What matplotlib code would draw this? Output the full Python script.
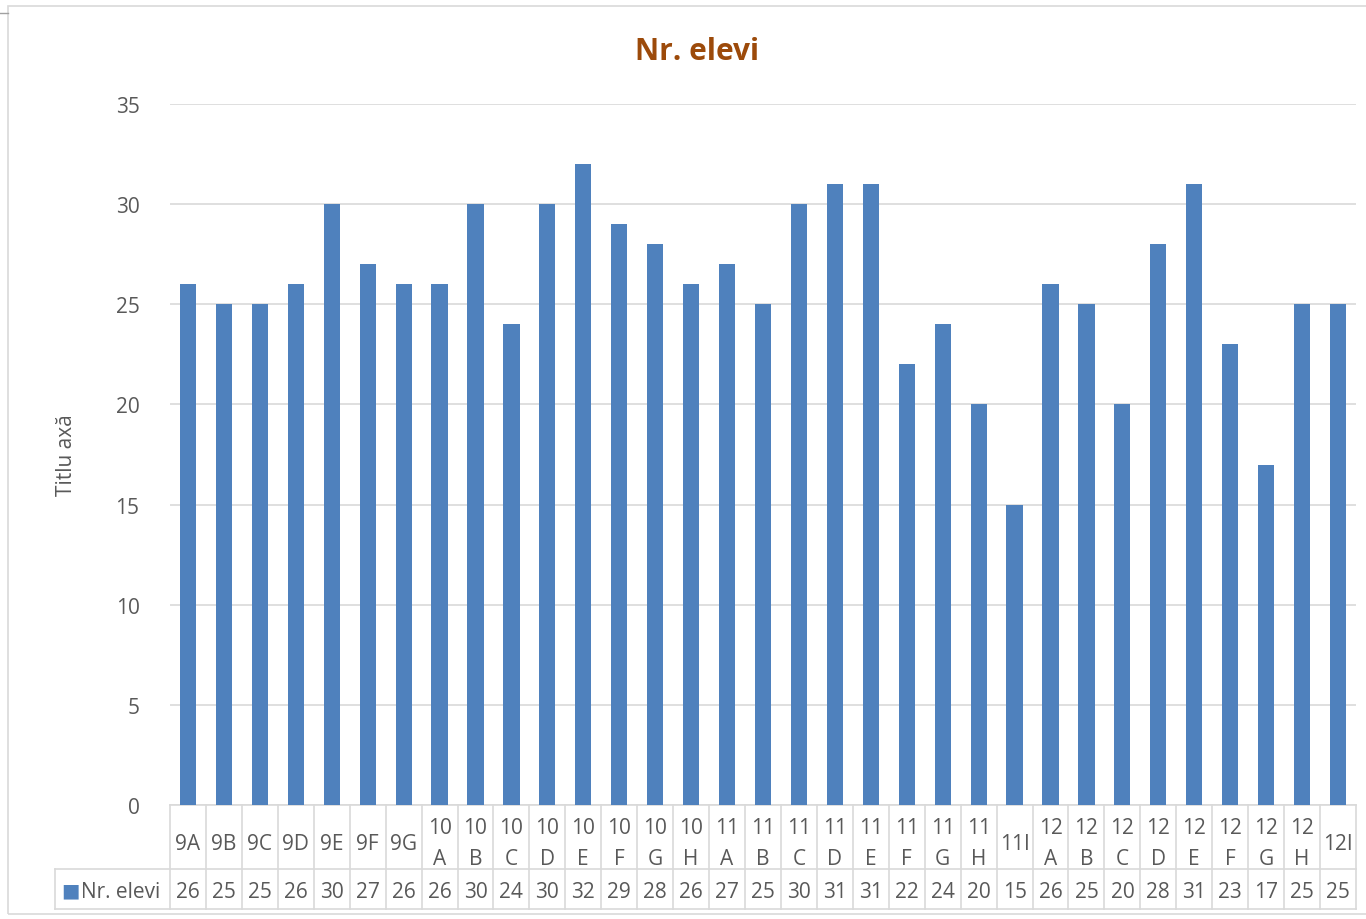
import matplotlib.pyplot as plt
from matplotlib.transforms import blended_transform_factory

# data
classes = ["9A", "9B", "9C", "9D", "9E", "9F", "9G",
           "10A", "10B", "10C", "10D", "10E", "10F", "10G", "10H",
           "11A", "11B", "11C", "11D", "11E", "11F", "11G", "11H", "11I",
           "12A", "12B", "12C", "12D", "12E", "12F", "12G", "12H", "12I"]
students = [26, 25, 25, 26, 30, 27, 26,
            26, 30, 24, 30, 32, 29, 28, 26,
            27, 25, 30, 31, 31, 22, 24, 20, 15,
            26, 25, 20, 28, 31, 23, 17, 25, 25]
series_name = "Nr. elevi"
y_ticks = [0, 5, 10, 15, 20, 25, 30, 35]

BAR = "#4F81BD"
GRID = "#D9D9D9"
TXT = "#595959"
FS = 15

plt.rcParams["font.family"] = ["Open Sans", "DejaVu Sans"]

W, H = 1366, 920
fig = plt.figure(figsize=(W / 100, H / 100), dpi=100)

# chart area border (cut off on the right like the screenshot)
fig.add_artist(plt.Rectangle((8 / W, 1 - 915 / H), 1400 / W, 908 / H,
                             transform=fig.transFigure, fill=False,
                             edgecolor=GRID, lw=1.2))
fig.add_artist(plt.Line2D([0, 8 / W], [1 - 14 / H, 1 - 14 / H],
                          transform=fig.transFigure, color="#A0A0A0", lw=1))

left, right, top, bottom = 170, 1356, 105, 806
ax = fig.add_axes([left / W, 1 - bottom / H, (right - left) / W, (bottom - top) / H])
n = len(classes)
xs = list(range(n))
ax.bar(xs, students, width=0.45, color=BAR, zorder=3)
ax.set_xlim(-0.5, n - 0.5)
ax.set_ylim(0, 35)
ax.set_yticks(y_ticks)
ax.set_yticklabels([str(v) for v in y_ticks], fontsize=FS, color=TXT)
ax.tick_params(axis="y", length=0, pad=22)
ax.set_xticks([])
ax.grid(axis="y", color=GRID, lw=1.2, zorder=0)
for s in ax.spines.values():
    s.set_visible(False)

ax.set_ylabel("Titlu axă", fontsize=FS, color=TXT, labelpad=28)
fig.text(697 / W, 1 - 52 / H, series_name, ha="center", va="center",
         fontsize=21.5, fontweight="bold", color="#9C4A0A")

# data table under the plot
tr = blended_transform_factory(ax.transData, ax.transAxes)
ph = bottom - top
r1 = -64 / ph      # end of category row
r2 = -104 / ph     # end of value row
leg_x = -0.5 - (left - 55) / ((right - left) / n)
lk = dict(transform=tr, color=GRID, lw=1.2, clip_on=False)
ax.plot([-0.5, n - 0.5], [0, 0], **lk)
ax.plot([leg_x, n - 0.5], [r1, r1], **lk)
ax.plot([leg_x, n - 0.5], [r2, r2], **lk)
ax.plot([leg_x, leg_x], [r1, r2], **lk)
for i in range(n + 1):
    ax.plot([i - 0.5, i - 0.5], [0, r2], **lk)

for i, (c, v) in enumerate(zip(classes, students)):
    lab = c if (len(c) < 3 or c.endswith("I")) else c[:-1] + "\n" + c[-1]
    ax.text(i, r1 / 2 - 6 / ph, lab, transform=tr, ha="center", va="center",
            fontsize=FS, color=TXT, linespacing=1.6, clip_on=False)
    ax.text(i, (r1 + r2) / 2 - 2 / ph, str(v), transform=tr, ha="center",
            va="center", fontsize=FS, color=TXT, clip_on=False)

# legend key inside the table
ax.text(leg_x + 0.17, (r1 + r2) / 2 - 1 / ph, "■", transform=tr, ha="left",
        va="center", fontsize=14, color=BAR, family="DejaVu Sans", clip_on=False)
ax.text(leg_x + 0.72, (r1 + r2) / 2 - 2 / ph, series_name, transform=tr,
        ha="left", va="center", fontsize=FS, color=TXT, clip_on=False)

fig.savefig("out.png", dpi=100, facecolor="white")
